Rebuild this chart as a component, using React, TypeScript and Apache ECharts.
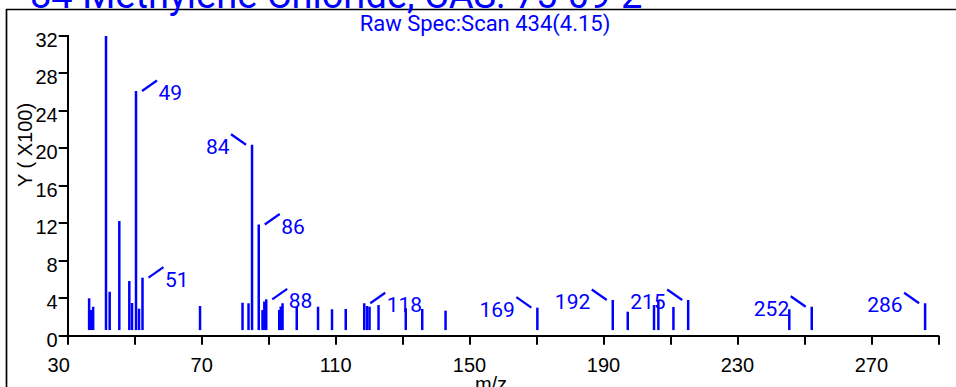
import React, { useEffect, useRef } from "react";
import * as echarts from "echarts";

// Peak positions (m/z) and intensities (x100)
const MZ = [36.4, 37.0, 37.6, 41.44, 42.54, 45.41, 48.4, 49.21, 50.4, 51.3, 52.34, 69.52, 82.21, 84.0, 85.05, 87.05, 88.18, 88.72, 89.29, 93.17, 93.62, 94.16, 98.4, 104.76, 108.94, 113.03, 118.56, 119.4, 120.14, 122.83, 130.96, 135.88, 142.84, 170.26, 192.78, 197.26, 205.1, 206.4, 210.9, 215.3, 245.5, 252.2, 286.06];
const INTENSITY = [3.99, 2.74, 3.09, 31.97, 4.69, 12.23, 5.83, 3.49, 26.1, 2.88, 6.19, 3.17, 3.52, 3.46, 20.37, 11.86, 2.74, 3.65, 3.88, 2.74, 3.11, 3.46, 3.09, 3.09, 2.82, 2.85, 3.46, 3.17, 3.09, 3.27, 2.92, 2.85, 2.67, 2.99, 3.81, 2.56, 3.27, 3.81, 3.06, 3.81, 2.82, 3.09, 3.46];

// Peak annotations
const LABEL_TEXTS = ["49", "51", "84", "86", "88", "118", "169", "192", "215", "252", "286"];
const LABEL_PEAK_INDEX = [8, 10, 14, 15, 18, 26, 33, 34, 39, 41, 42];
const LABEL_SIDES = [1, 1, -1, 1, 1, 1, -1, -1, -1, -1, -1];

const X_MIN = 30;
const X_MAX = 290;
const X_STEP = 20;
const Y_MIN = 0;
const Y_MAX = 32;
const Y_STEP = 4;

const TITLE = "84 Methylene Chloride, CAS: 75-09-2";
const SUBTITLE = "Raw Spec:Scan 434(4.15)";
const Y_NAME = "Y ( X100)";
const X_NAME = "m/z";

const BLUE = "#0000ff";
const BASE = 0.6;
const AXIS_FONT = "'Liberation Sans', Arial, sans-serif";
const BLUE_FONT = "Roboto, 'Liberation Sans', sans-serif";

export default function App() {
  const ref = useRef<HTMLDivElement>(null);

  useEffect(() => {
    if (!ref.current) return;
    const chart = echarts.init(ref.current, undefined, { renderer: "svg" });

    const barData = MZ.map((m, i) => [m, INTENSITY[i]]);
    const labelData = LABEL_TEXTS.map((t, i) => [
      MZ[LABEL_PEAK_INDEX[i]],
      INTENSITY[LABEL_PEAK_INDEX[i]],
      i,
    ]);

    chart.setOption({
      animation: false,
      backgroundColor: "#ffffff",
      grid: { left: 67.7, right: 17.7, top: 35.7, bottom: 51.3, containLabel: false },
      xAxis: {
        type: "value",
        min: X_MIN,
        max: X_MAX,
        interval: X_STEP,
        splitLine: { show: false },
        axisLine: { show: true, onZero: false, lineStyle: { color: "#000", width: 2 } },
        axisTick: { show: true, length: 9, lineStyle: { color: "#000", width: 2 } },
        axisLabel: {
          margin: 19,
          color: "#000",
          fontSize: 20,
          fontFamily: AXIS_FONT,
          showMaxLabel: true,
          showMinLabel: true,
          formatter: (v: number) => {
            const r = Math.round(v);
            if ((r - X_MIN) % 40 !== 0) return "";
            return r === X_MIN ? `{f|${r}}` : `{n|${r}}`;
          },
          rich: {
            f: { padding: [0, 18, 0, 0], fontSize: 20, fontFamily: AXIS_FONT, color: "#000" },
            n: { fontSize: 20, fontFamily: AXIS_FONT, color: "#000" },
          },
        },
      },
      yAxis: {
        type: "value",
        min: Y_MIN,
        max: Y_MAX,
        interval: Y_STEP,
        splitLine: { show: false },
        axisLine: { show: true, lineStyle: { color: "#000", width: 2 } },
        axisTick: { show: true, length: 9, lineStyle: { color: "#000", width: 2 } },
        axisLabel: {
          margin: 10,
          color: "#000",
          fontSize: 20,
          fontFamily: AXIS_FONT,
          formatter: (v: number) => `{a|${v}}`,
          rich: {
            a: { padding: [8, 0, 0, 0], fontSize: 20, fontFamily: AXIS_FONT, color: "#000" },
          },
        },
      },
      graphic: [
        {
          type: "rect",
          silent: true,
          shape: { x: 6.5, y: 9.5, width: 2000, height: 2000 },
          style: { fill: "none", stroke: "#000", lineWidth: 1.7 },
        },
        {
          type: "text",
          x: 30,
          y: -5.5,
          style: {
            text: TITLE,
            fill: BLUE,
            fontSize: 38,
            fontFamily: BLUE_FONT,
            align: "left",
            verticalAlign: "middle",
          },
        },
        {
          type: "text",
          x: 485,
          y: 23,
          style: {
            text: SUBTITLE,
            fill: BLUE,
            fontSize: 22,
            fontFamily: BLUE_FONT,
            align: "center",
            verticalAlign: "middle",
          },
        },
        {
          type: "text",
          x: 25,
          y: 145,
          rotation: Math.PI / 2,
          style: {
            text: Y_NAME,
            fill: "#000",
            fontSize: 20,
            fontFamily: AXIS_FONT,
            align: "center",
            verticalAlign: "middle",
          },
        },
        {
          type: "text",
          x: 491,
          y: 374,
          style: {
            text: X_NAME,
            fill: "#000",
            fontSize: 20,
            fontFamily: AXIS_FONT,
            align: "center",
            verticalAlign: "top",
          },
        },
      ],
      series: [
        {
          type: "custom",
          data: barData,
          encode: { x: 0, y: 1 },
          renderItem: (params: any, api: any) => {
            const x = api.value(0);
            const y = api.value(1);
            const top = api.coord([x, y]);
            const bot = api.coord([x, BASE]);
            return {
              type: "rect",
              shape: { x: top[0] - 1.25, y: top[1], width: 2.5, height: bot[1] - top[1] },
              style: { fill: BLUE },
            };
          },
        },
        {
          type: "custom",
          data: labelData,
          encode: { x: 0, y: 1 },
          renderItem: (params: any, api: any) => {
            const x = api.value(0);
            const y = api.value(1);
            const i = api.value(2);
            const side = LABEL_SIDES[i];
            const p = api.coord([x, y]);
            return {
              type: "group",
              children: [
                {
                  type: "line",
                  shape: {
                    x1: p[0] + side * 6,
                    y1: p[1],
                    x2: p[0] + side * 21,
                    y2: p[1] - 10.5,
                  },
                  style: { stroke: BLUE, lineWidth: 2.2 },
                },
                {
                  type: "text",
                  x: p[0] + side * 22.5,
                  y: p[1] + 2,
                  style: {
                    text: LABEL_TEXTS[i],
                    fill: BLUE,
                    fontSize: 21,
                    fontFamily: BLUE_FONT,
                    align: side > 0 ? "left" : "right",
                    verticalAlign: "middle",
                  },
                },
              ],
            };
          },
        },
      ],
    });

    return () => chart.dispose();
  }, []);

  return (
    <div
      ref={ref}
      style={{ position: "absolute", left: 0, top: 0, width: 956, height: 387 }}
    />
  );
}
